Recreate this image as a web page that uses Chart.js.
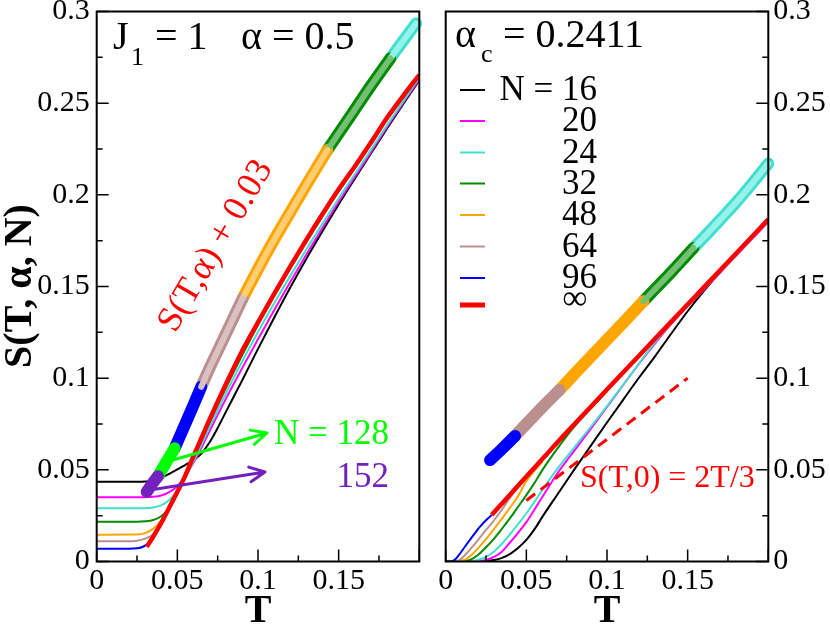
<!DOCTYPE html>
<html>
<head>
<meta charset="utf-8">
<script src="https://cdn.jsdelivr.net/npm/chart.js@4.4.1/dist/chart.umd.min.js"></script>
<style>
  html, body { margin: 0; padding: 0; background: #fff; }
</style>
</head>
<body>
<canvas id="leftPanel" width="430" height="625" style="position:absolute;left:0;top:0"></canvas>
<canvas id="rightPanel" width="400" height="625" style="position:absolute;left:430px;top:0"></canvas>
<script>
var FONT = '"Liberation Serif", "DejaVu Serif", serif';
Chart.defaults.font.family = FONT;

// ---- axes ----
const tTicks = [0, 0.05, 0.1, 0.15, 0.2];
const tTickLabels = ['0', '0.05', '0.1', '0.15', ''];
const tMinor = [0.025, 0.075, 0.125, 0.175];
const sTicks = [0, 0.05, 0.1, 0.15, 0.2, 0.25, 0.3];
const sTickLabels = ['0', '0.05', '0.1', '0.15', '0.2', '0.25', '0.3'];
const sMinor = [0.025, 0.075, 0.125, 0.175, 0.225, 0.275];

// ---- left panel, alpha = 0.5 : finite N ----
const tLeft = [0, 0.025, 0.03, 0.035, 0.04, 0.045, 0.05, 0.055, 0.06, 0.065, 0.07, 0.075, 0.08, 0.085, 0.09,
               0.1, 0.11, 0.12, 0.13, 0.14, 0.15, 0.16, 0.17, 0.18, 0.19, 0.2];
const sL16 = [0.0435, 0.0435, 0.0436, 0.0440, 0.0457, 0.0478, 0.0502, 0.0527, 0.0552, 0.0590, 0.0650, 0.0728, 0.0815, 0.0900, 0.0985,
              0.1160, 0.1330, 0.1495, 0.1652, 0.1802, 0.1948, 0.2088, 0.2225, 0.2362, 0.2495, 0.2625];
const sL20 = [0.0350, 0.0350, 0.0351, 0.0353, 0.0360, 0.0378, 0.0410, 0.0465, 0.0538, 0.0622, 0.0712, 0.0800, 0.0886, 0.0970, 0.1052,
              0.1212, 0.1370, 0.1525, 0.1675, 0.1820, 0.1962, 0.2098, 0.2233, 0.2370, 0.2502, 0.2632];
const sL24 = [0.0290, 0.0290, 0.0291, 0.0295, 0.0306, 0.0335, 0.0385, 0.0458, 0.0545, 0.0638, 0.0732, 0.0825, 0.0915, 0.1003, 0.1088,
              0.1252, 0.1408, 0.1558, 0.1703, 0.1843, 0.1980, 0.2112, 0.2245, 0.2380, 0.2510, 0.2640];
const sL32 = [0.0217, 0.0217, 0.0219, 0.0226, 0.0247, 0.0290, 0.0368, 0.0462, 0.0562, 0.0660, 0.0758, 0.0852, 0.0945, 0.1035, 0.1122,
              0.1290, 0.1447, 0.1598, 0.1743, 0.1883, 0.2018, 0.2145, 0.2275, 0.2410, 0.2530, 0.2647];
const tL48 = [0, 0.025, 0.03, 0.035, 0.04, 0.045, 0.05];
const sL48 = [0.0146, 0.0147, 0.0155, 0.0178, 0.0225, 0.0295, 0.0380];
const tL64 = [0, 0.02, 0.025, 0.03, 0.035, 0.04, 0.045];
const sL64 = [0.0110, 0.0110, 0.0113, 0.0125, 0.0148, 0.0208, 0.0295];
const tL96 = [0, 0.02, 0.025, 0.028, 0.031, 0.034, 0.037, 0.04];
const sL96 = [0.0070, 0.0070, 0.0072, 0.0078, 0.0092, 0.0115, 0.0165, 0.0210];
// N -> infinity
const tLInf = [0.031, 0.035, 0.04, 0.045, 0.05, 0.055, 0.06, 0.065, 0.07, 0.08, 0.09, 0.1,
               0.11, 0.12, 0.13, 0.14, 0.15, 0.16, 0.17, 0.18, 0.19, 0.2];
const sLInf = [0.0080, 0.0135, 0.0210, 0.0295, 0.0380, 0.0470, 0.0575, 0.0675, 0.0775, 0.0965, 0.1145, 0.1305,
               0.1460, 0.1610, 0.1755, 0.1895, 0.2030, 0.2155, 0.2285, 0.2420, 0.2540, 0.2655];
// symbols S(T,alpha) + 0.03, by N
const tSym152L = [0.031, 0.0345, 0.038];
const sSym152L = [0.0380, 0.0425, 0.0465];
const tSym128L = [0.038, 0.043, 0.0483];
const sSym128L = [0.0465, 0.0540, 0.0617];
const tSym96L = [0.0483, 0.055, 0.06, 0.0648];
const sSym96L = [0.0617, 0.0752, 0.0853, 0.0953];
const tSym64L = [0.0648, 0.07, 0.075, 0.08, 0.085, 0.0905];
const sSym64L = [0.0953, 0.1055, 0.1148, 0.1240, 0.1333, 0.1435];
const tSym48L = [0.0905, 0.1, 0.11, 0.12, 0.13, 0.143];
const sSym48L = [0.1435, 0.1595, 0.1755, 0.1905, 0.2055, 0.2244];
const tSym32L = [0.143, 0.15, 0.16, 0.17, 0.182];
const sSym32L = [0.2244, 0.2335, 0.2465, 0.2595, 0.2744];
const tSym24L = [0.182, 0.19, 0.198];
const sSym24L = [0.2744, 0.2840, 0.2935];

// ---- right panel, alpha_c = 0.2411 ----
const tR16 = [0, 0.02, 0.03, 0.035, 0.04, 0.045, 0.05, 0.055, 0.06, 0.07, 0.08, 0.09, 0.1, 0.11, 0.12, 0.13, 0.14, 0.15, 0.16, 0.18, 0.2];
const sR16 = [0, 0, 0.0008, 0.0020, 0.0042, 0.0075, 0.0118, 0.0175, 0.0245, 0.0375, 0.0505, 0.0632, 0.0758, 0.0882, 0.1005, 0.1122, 0.1245, 0.1365, 0.1475, 0.1672, 0.1860];
const tR20 = [0, 0.02, 0.025, 0.03, 0.035, 0.04, 0.045, 0.05, 0.055, 0.06, 0.065, 0.07, 0.08, 0.09, 0.1, 0.12, 0.14, 0.16, 0.18, 0.2];
const sR20 = [0, 0, 0.0008, 0.0025, 0.0055, 0.0105, 0.0158, 0.0215, 0.0283, 0.0353, 0.0423, 0.0490, 0.0608, 0.0725, 0.0843, 0.1080, 0.1298, 0.1482, 0.1667, 0.1852];
const tR24 = [0, 0.015, 0.02, 0.025, 0.03, 0.035, 0.04, 0.045, 0.05, 0.055, 0.06, 0.065, 0.07, 0.08, 0.09, 0.1, 0.11, 0.12, 0.13, 0.14, 0.16, 0.18, 0.2];
const sR24 = [0, 0, 0.0008, 0.0025, 0.0055, 0.0098, 0.0150, 0.0205, 0.0262, 0.0325, 0.0392, 0.0455, 0.0515, 0.0625, 0.0735, 0.0848, 0.0963, 0.1082, 0.1198, 0.1300, 0.1485, 0.1670, 0.1856];
const tR32 = [0, 0.01, 0.015, 0.02, 0.025, 0.03, 0.035, 0.04, 0.045, 0.05, 0.055, 0.06, 0.07, 0.08, 0.1];
const sR32 = [0, 0, 0.0008, 0.0035, 0.0078, 0.0125, 0.0180, 0.0238, 0.0300, 0.0362, 0.0428, 0.0500, 0.0625, 0.0738, 0.0928];
const tR48 = [0, 0.008, 0.012, 0.016, 0.02, 0.025, 0.03, 0.035, 0.04, 0.045, 0.05, 0.06];
const sR48 = [0, 0, 0.0010, 0.0035, 0.0072, 0.0122, 0.0178, 0.0235, 0.0295, 0.0358, 0.0438, 0.0545];
const tR64 = [0, 0.005, 0.009, 0.013, 0.017, 0.02, 0.025, 0.03, 0.035, 0.04, 0.045];
const sR64 = [0, 0, 0.0010, 0.0045, 0.0085, 0.0117, 0.0172, 0.0225, 0.0285, 0.0350, 0.0408];
const tR96 = [0, 0.003, 0.006, 0.009, 0.012, 0.015, 0.018, 0.021, 0.025, 0.0285];
const sR96 = [0, 0, 0.0012, 0.0045, 0.0082, 0.0118, 0.0153, 0.0187, 0.0225, 0.0254];
const tRInf = [0.0285, 0.04, 0.05, 0.06, 0.07, 0.08, 0.1, 0.12, 0.14, 0.16, 0.18, 0.2];
const sRInf = [0.0254, 0.0366, 0.0464, 0.0560, 0.0657, 0.0751, 0.0938, 0.1124, 0.1310, 0.1495, 0.1680, 0.1866];
const tSym96R = [0.0275, 0.035, 0.043];
const sSym96R = [0.0553, 0.0615, 0.0685];
const tSym64R = [0.043, 0.05, 0.06, 0.0705];
const sSym64R = [0.0685, 0.0750, 0.0843, 0.0935];
const tSym48R = [0.0705, 0.08, 0.09, 0.1, 0.11, 0.1226];
const sSym48R = [0.0935, 0.1025, 0.1118, 0.1210, 0.1302, 0.1420];
const tSym32R = [0.1226, 0.13, 0.14, 0.1536];
const sSym32R = [0.1420, 0.1488, 0.1580, 0.1710];
const tSym24R = [0.1536, 0.16, 0.17, 0.18, 0.19, 0.2];
const sSym24R = [0.1710, 0.1768, 0.1862, 0.1958, 0.2062, 0.2171];
// S(T,0) = 2T/3
const tZero = [0.05, 0.15];
const sZero = [0.0333, 0.1];

const legendLabels = ['N = 16', '20', '24', '32', '48', '64', '96', '∞'];

const BLACK = '#000000', MAGENTA = '#ff00ff', TURQ = '#40e0d0', GREEN = '#008b00', ORANGE = '#ffa500',
      BROWN = '#bc8f8f', BLUE = '#0000ff', RED = '#ff0000', LIME = '#00ff00', INDIGO = '#7221bc';
const legendColors = [BLACK, MAGENTA, TURQ, GREEN, ORANGE, BROWN, BLUE, RED];

function pts(ts, ss) {
    return ts.map((t, i) => ({ x: t, y: ss[i] }));
}

function curve(ts, ss, color, width, order) {
    return {
        data: pts(ts, ss), showLine: true, borderColor: color, borderWidth: width,
        pointRadius: 0, cubicInterpolationMode: 'monotone', fill: false, order: order
    };
}

// band of dense open circles: coloured edge, optional paler inside
function band(ts, ss, color, tint) {
    const base = {
        data: pts(ts, ss), showLine: true, borderColor: color, borderWidth: 12,
        borderCapStyle: 'round', borderJoinStyle: 'round', pointRadius: 0,
        cubicInterpolationMode: 'monotone', fill: false, clip: false, order: 3
    };
    const out = [base];
    if (tint) out.push(Object.assign({}, base, { data: pts(ts, ss), borderColor: tint, borderWidth: 6, order: 2 }));
    return out;
}

function arrow(ctx, x1, y1, x2, y2, color) {
    const ang = Math.atan2(y2 - y1, x2 - x1);
    ctx.strokeStyle = color;
    ctx.lineWidth = 3;
    ctx.lineCap = 'round';
    ctx.beginPath();
    ctx.moveTo(x1, y1);
    ctx.lineTo(x2, y2);
    [-1, 1].forEach(s => {
        ctx.moveTo(x2, y2);
        ctx.lineTo(x2 - 17 * Math.cos(ang + s * 0.45), y2 - 17 * Math.sin(ang + s * 0.45));
    });
    ctx.stroke();
}

function frameTicks(side) {
    return {
        id: 'frameTicks',
        afterDraw(chart) {
            const { ctx, chartArea: a, scales } = chart;
            ctx.save();
            ctx.strokeStyle = '#000';
            ctx.lineWidth = 1.5;
            ctx.beginPath();
            tTicks.forEach(v => { const p = scales.x.getPixelForValue(v); ctx.moveTo(p, a.bottom); ctx.lineTo(p, a.bottom - 12); });
            tMinor.forEach(v => { const p = scales.x.getPixelForValue(v); ctx.moveTo(p, a.bottom); ctx.lineTo(p, a.bottom - 6); });
            const edge = side === 'left' ? a.left : a.right;
            const dir = side === 'left' ? 1 : -1;
            sTicks.forEach(v => { const p = scales.y.getPixelForValue(v); ctx.moveTo(edge, p); ctx.lineTo(edge + dir * 12, p); });
            sMinor.forEach(v => { const p = scales.y.getPixelForValue(v); ctx.moveTo(edge, p); ctx.lineTo(edge + dir * 6, p); });
            ctx.stroke();
            ctx.lineWidth = 2;
            ctx.strokeRect(a.left, a.top, a.width, a.height);
            ctx.restore();
        }
    };
}

const leftNotes = {
    id: 'leftNotes',
    afterDraw(chart) {
        const ctx = chart.ctx;
        ctx.save();
        ctx.fillStyle = '#000';
        ctx.textAlign = 'left';
        ctx.textBaseline = 'alphabetic';
        ctx.font = '40px ' + FONT;
        ctx.fillText('J', 113, 49);
        ctx.fillText('= 1', 155, 49);
        ctx.fillText('α = 0.5', 241, 49);
        ctx.font = '26px ' + FONT;
        ctx.fillText('1', 131, 65);

        ctx.font = 'bold 40px ' + FONT;
        ctx.textAlign = 'center';
        ctx.fillText('T', 258, 622);
        ctx.save();
        ctx.translate(21, 286);
        ctx.rotate(-Math.PI / 2);
        ctx.textBaseline = 'middle';
        ctx.fillText('S(T, α, N)', 0, 0);
        ctx.restore();

        ctx.save();
        ctx.translate(216, 246);
        ctx.rotate(-59.5 * Math.PI / 180);
        ctx.fillStyle = RED;
        ctx.font = '36px ' + FONT;
        ctx.textBaseline = 'middle';
        ctx.fillText('S(T,α) + 0.03', 0, 0);
        ctx.restore();

        arrow(ctx, 173, 460, 267, 433, LIME);
        arrow(ctx, 150, 490, 265, 472, INDIGO);
        ctx.font = '35px ' + FONT;
        ctx.textAlign = 'right';
        ctx.fillStyle = LIME;
        ctx.fillText('N = 128', 389, 444);
        ctx.fillStyle = INDIGO;
        ctx.fillText('152', 389, 487);
        ctx.restore();
    }
};

const rightNotes = {
    id: 'rightNotes',
    afterDraw(chart) {
        const ctx = chart.ctx;
        ctx.save();
        ctx.fillStyle = '#000';
        ctx.textAlign = 'left';
        ctx.textBaseline = 'alphabetic';
        ctx.font = '40px ' + FONT;
        ctx.fillText('α', 25, 47);
        ctx.fillText('= 0.2411', 73, 47);
        ctx.font = '26px ' + FONT;
        ctx.fillText('c', 51, 62);

        // legend
        const ys = [90, 121, 152.5, 183.5, 215, 246.5, 278, 305];
        ys.forEach((y, i) => {
            ctx.strokeStyle = legendColors[i];
            ctx.lineWidth = i === 7 ? 5 : 2;
            ctx.beginPath();
            ctx.moveTo(30, y);
            ctx.lineTo(55, y);
            ctx.stroke();
        });
        ctx.font = '35px ' + FONT;
        ctx.fillStyle = '#000';
        ctx.textAlign = 'right';
        ctx.textBaseline = 'middle';
        for (let i = 0; i < 7; i++) ctx.fillText(legendLabels[i], 167, ys[i] + 1);
        ctx.textAlign = 'center';
        ctx.textBaseline = 'alphabetic';
        ctx.fillText(legendLabels[7], 145, 309);

        ctx.font = 'bold 40px ' + FONT;
        ctx.fillText('T', 177, 622);

        ctx.font = '32px ' + FONT;
        ctx.fillStyle = RED;
        ctx.textAlign = 'left';
        ctx.fillText('S(T,0) = 2T/3', 150, 487);
        ctx.restore();
    }
};

function makeChart(id, datasets, side, pad, yWidth, notes) {
    return new Chart(document.getElementById(id), {
        type: 'scatter',
        data: { datasets: datasets },
        options: {
            responsive: false,
            animation: false,
            layout: { padding: pad },
            plugins: { legend: { display: false }, tooltip: { enabled: false } },
            scales: {
                x: {
                    type: 'linear', min: 0, max: 0.2,
                    afterBuildTicks: s => { s.ticks = tTicks.map(v => ({ value: v })); },
                    afterFit: s => { s.height = 63.5; s.paddingLeft = 0; s.paddingRight = 0; },
                    grid: { display: false, drawTicks: false, tickLength: 0 },
                    border: { display: false },
                    ticks: {
                        autoSkip: false, maxRotation: 0, padding: 2, color: '#000',
                        font: { size: 30, family: FONT }, callback: (v, i) => tTickLabels[i]
                    }
                },
                y: {
                    type: 'linear', position: side, min: 0, max: 0.3,
                    afterBuildTicks: s => { s.ticks = sTicks.map(v => ({ value: v })); },
                    afterFit: s => { s.width = yWidth; s.paddingTop = 0; s.paddingBottom = 0; },
                    grid: { display: false, drawTicks: false, tickLength: 0 },
                    border: { display: false },
                    ticks: {
                        autoSkip: false, padding: side === 'left' ? 7 : 5, color: '#000',
                        font: { size: 30, family: FONT }, callback: (v, i) => sTickLabels[i]
                    }
                }
            }
        },
        plugins: [frameTicks(side), notes]
    });
}

const leftSets = [].concat(
    band(tSym152L, sSym152L, INDIGO),
    band(tSym128L, sSym128L, LIME),
    band(tSym96L, sSym96L, BLUE),
    band(tSym64L, sSym64L, BROWN, '#dac1c1'),
    band(tSym48L, sSym48L, ORANGE, '#ffce73'),
    band(tSym32L, sSym32L, GREEN, '#73bf73'),
    band(tSym24L, sSym24L, TURQ, '#96f1ea'),
    [
        curve(tLInf, sLInf, RED, 4.5, 4),
        curve(tL96, sL96, BLUE, 2, 9),
        curve(tL64, sL64, BROWN, 2, 10),
        curve(tL48, sL48, ORANGE, 2, 11),
        curve(tLeft, sL32, GREEN, 2, 12),
        curve(tLeft, sL24, TURQ, 2, 13),
        curve(tLeft, sL20, MAGENTA, 2, 14),
        curve(tLeft, sL16, BLACK, 2, 15)
    ]
);

const dashed = curve(tZero, sZero, RED, 3, 4);
dashed.borderDash = [11, 7];

const rightSets = [].concat(
    band(tSym96R, sSym96R, BLUE),
    band(tSym64R, sSym64R, BROWN),
    band(tSym48R, sSym48R, ORANGE),
    band(tSym32R, sSym32R, GREEN, '#73bf73'),
    band(tSym24R, sSym24R, TURQ, '#96f1ea'),
    [
        curve(tRInf, sRInf, RED, 4.5, 4),
        dashed,
        curve(tR96, sR96, BLUE, 2, 9),
        curve(tR64, sR64, BROWN, 2, 10),
        curve(tR48, sR48, ORANGE, 2, 11),
        curve(tR32, sR32, GREEN, 2, 12),
        curve(tR24, sR24, TURQ, 2, 13),
        curve(tR20, sR20, MAGENTA, 2, 14),
        curve(tR16, sR16, BLACK, 2, 15)
    ]
);

const charts = [
    makeChart('leftPanel', leftSets, 'left', { top: 11.5, right: 10.7, left: 0, bottom: 0 }, 96.7, leftNotes),
    makeChart('rightPanel', rightSets, 'right', { top: 11.5, right: 0, left: 15.7, bottom: 0 }, 61.7, rightNotes)
];

// draw once more after the page has settled, in case the serif face was not ready for the first pass
window.addEventListener('load', () => {
    setTimeout(() => charts.forEach(c => c.render()), 30);
});
</script>
</body>
</html>
